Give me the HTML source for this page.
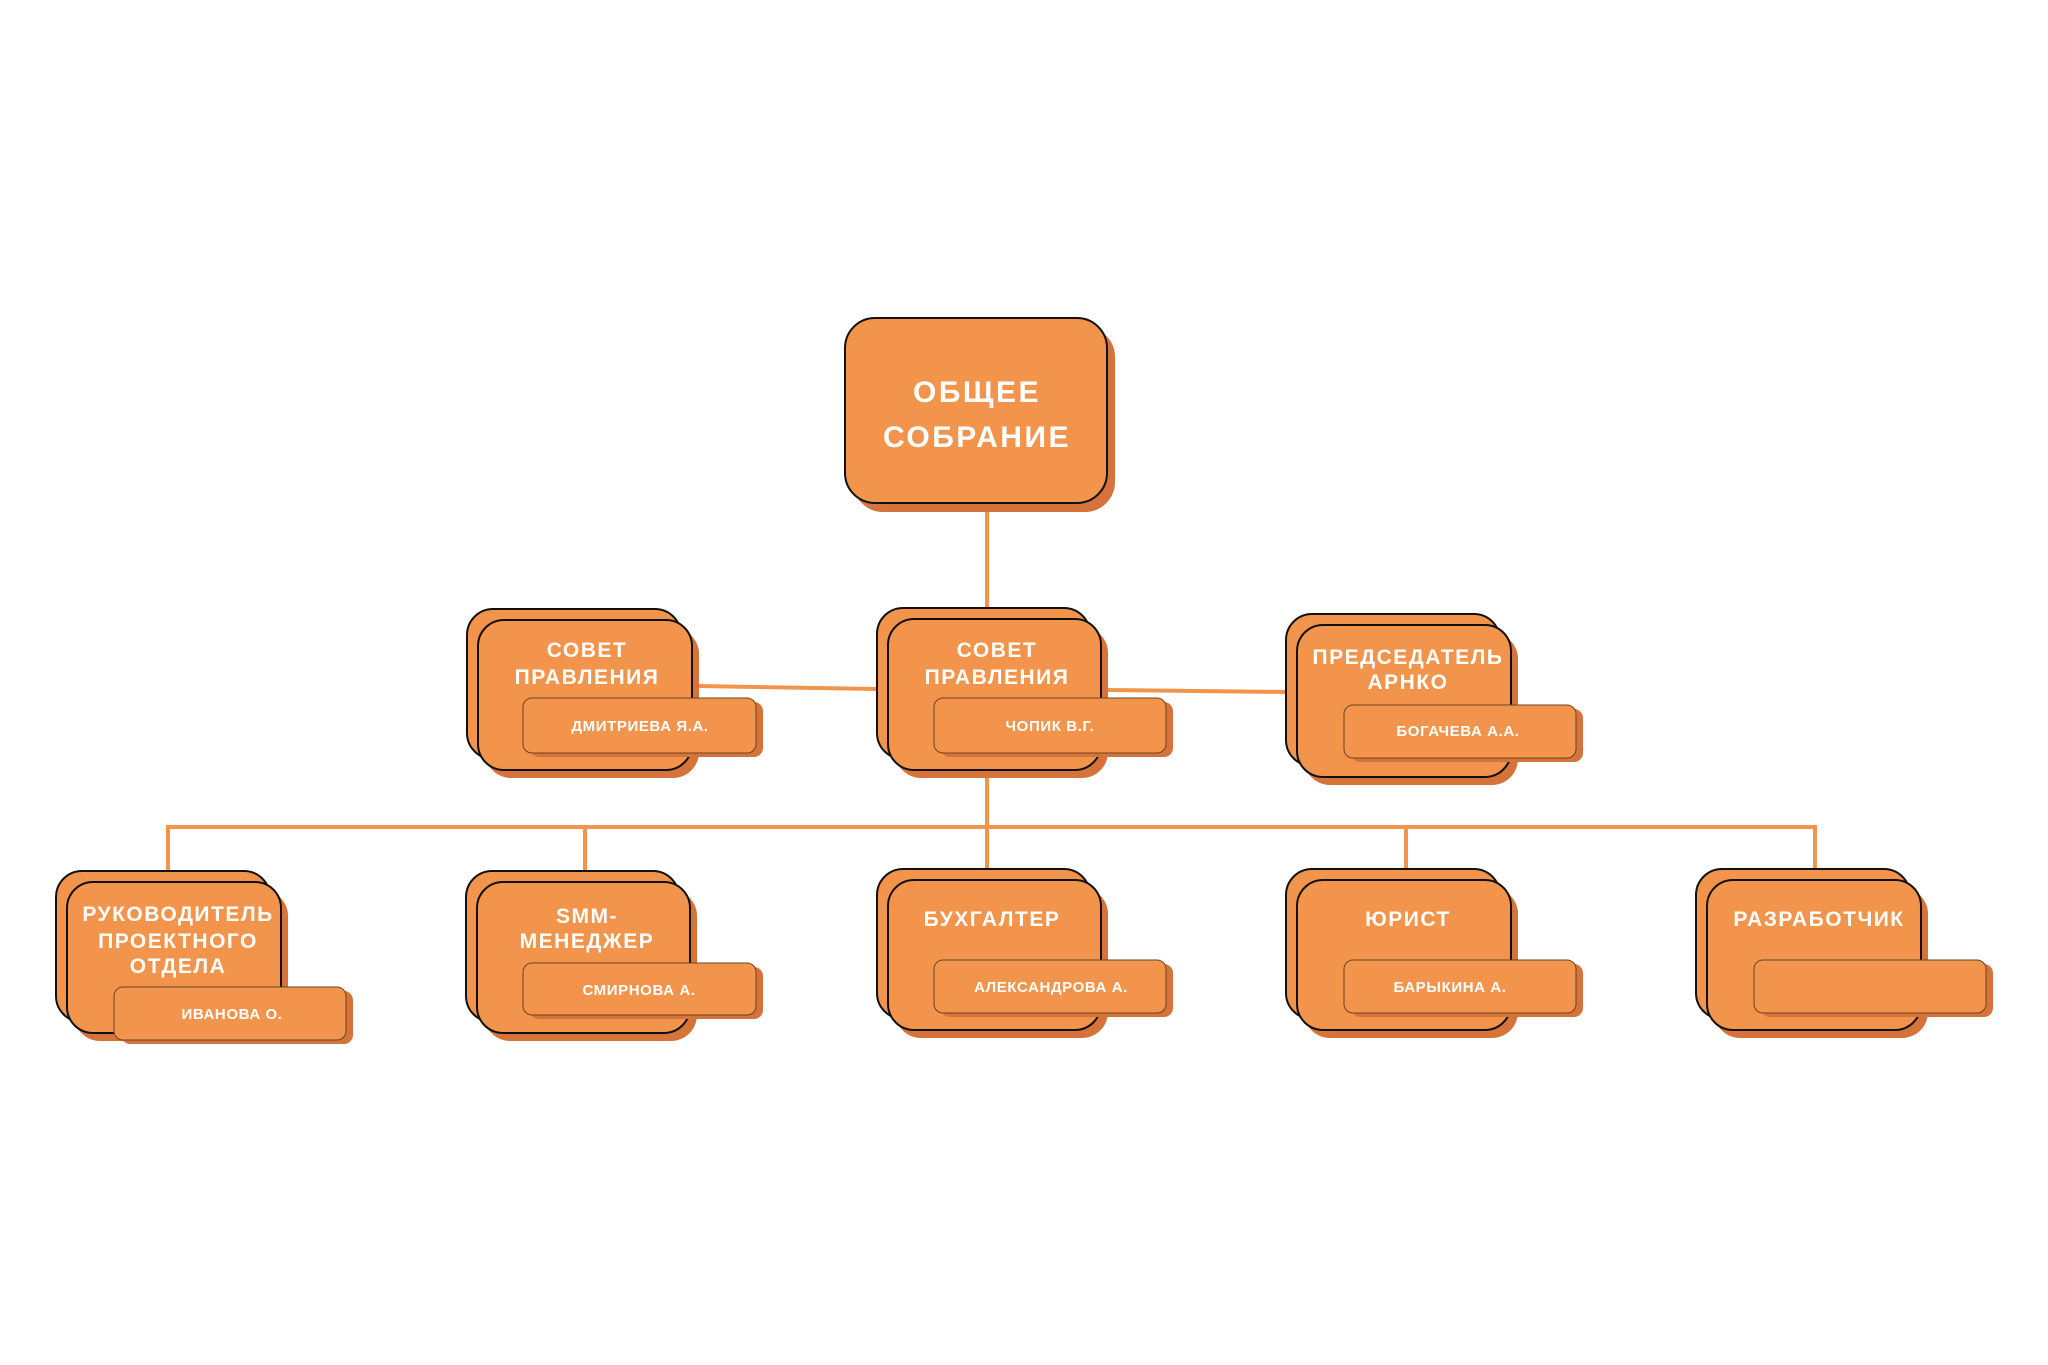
<!DOCTYPE html>
<html>
<head>
<meta charset="utf-8">
<style>
html,body{margin:0;padding:0;background:#fff;}
svg{display:block;}
.t{font-family:"Liberation Sans","DejaVu Sans",sans-serif;font-weight:bold;fill:#fff;text-anchor:middle;}
.big{font-size:30px;letter-spacing:2.5px;}
.mid{font-size:21px;letter-spacing:1.5px;}
.sm{font-size:15px;letter-spacing:0.6px;}
.f{fill:#F2944C;stroke:#111;stroke-width:2;}
.s{fill:#D6733A;}
.p{fill:#F2944C;stroke:#6b4423;stroke-width:1;}
.ln{stroke:#F2944C;stroke-width:4;fill:none;}
</style>
</head>
<body>
<svg width="2048" height="1365" viewBox="0 0 2048 1365" xmlns="http://www.w3.org/2000/svg">
<rect width="2048" height="1365" fill="#fff"/>

<!-- connectors -->
<line class="ln" x1="987" y1="503" x2="987" y2="612"/>
<line class="ln" x1="987" y1="770" x2="987" y2="874"/>
<line class="ln" x1="166" y1="827" x2="1817" y2="827"/>
<line class="ln" x1="168" y1="825" x2="168" y2="874"/>
<line class="ln" x1="585" y1="825" x2="585" y2="874"/>
<line class="ln" x1="1406" y1="825" x2="1406" y2="874"/>
<line class="ln" x1="1815" y1="825" x2="1815" y2="874"/>
<line class="ln" x1="698" y1="686" x2="878" y2="689"/>
<line class="ln" x1="1106" y1="690" x2="1288" y2="692"/>

<!-- top node -->
<rect class="s" x="853" y="327" width="262" height="185" rx="30"/>
<rect class="f" x="845" y="318" width="262" height="185" rx="30"/>
<text class="t big" x="977" y="402">ОБЩЕЕ</text>
<text class="t big" x="977" y="447">СОБРАНИЕ</text>

<!-- N2 Совет left -->
<rect class="s" x="485" y="628" width="214" height="150" rx="26"/>
<rect class="f" x="467" y="609" width="214" height="150" rx="26"/>
<rect class="f" x="478" y="620" width="214" height="150" rx="26"/>
<text class="t mid" x="587" y="657">СОВЕТ</text>
<text class="t mid" x="587" y="684">ПРАВЛЕНИЯ</text>
<rect class="s" x="530" y="702" width="233" height="55" rx="9"/>
<rect class="p" x="523" y="698" width="233" height="55" rx="9"/>
<text class="t sm" x="640" y="731">ДМИТРИЕВА Я.А.</text>

<!-- N3 Совет center -->
<rect class="s" x="895" y="627" width="213" height="151" rx="26"/>
<rect class="f" x="877" y="608" width="213" height="151" rx="26"/>
<rect class="f" x="888" y="619" width="213" height="151" rx="26"/>
<text class="t mid" x="997" y="657">СОВЕТ</text>
<text class="t mid" x="997" y="684">ПРАВЛЕНИЯ</text>
<rect class="s" x="941" y="702" width="232" height="55" rx="9"/>
<rect class="p" x="934" y="698" width="232" height="55" rx="9"/>
<text class="t sm" x="1050" y="731">ЧОПИК В.Г.</text>

<!-- N4 Председатель -->
<rect class="s" x="1304" y="633" width="214" height="152" rx="26"/>
<rect class="f" x="1286" y="614" width="214" height="152" rx="26"/>
<rect class="f" x="1297" y="625" width="214" height="152" rx="26"/>
<text class="t mid" x="1408" y="664">ПРЕДСЕДАТЕЛЬ</text>
<text class="t mid" x="1408" y="689">АРНКО</text>
<rect class="s" x="1351" y="709" width="232" height="53" rx="9"/>
<rect class="p" x="1344" y="705" width="232" height="53" rx="9"/>
<text class="t sm" x="1458" y="736">БОГАЧЕВА А.А.</text>

<!-- N5 Руководитель -->
<rect class="s" x="74" y="890" width="214" height="151" rx="26"/>
<rect class="f" x="56" y="871" width="214" height="151" rx="26"/>
<rect class="f" x="67" y="882" width="214" height="151" rx="26"/>
<text class="t mid" x="178" y="921">РУКОВОДИТЕЛЬ</text>
<text class="t mid" x="178" y="948">ПРОЕКТНОГО</text>
<text class="t mid" x="178" y="973">ОТДЕЛА</text>
<rect class="s" x="121" y="991" width="232" height="53" rx="9"/>
<rect class="p" x="114" y="987" width="232" height="53" rx="9"/>
<text class="t sm" x="232" y="1019">ИВАНОВА О.</text>

<!-- N6 SMM -->
<rect class="s" x="484" y="890" width="213" height="151" rx="26"/>
<rect class="f" x="466" y="871" width="213" height="151" rx="26"/>
<rect class="f" x="477" y="882" width="213" height="151" rx="26"/>
<text class="t mid" x="587" y="923">SMM-</text>
<text class="t mid" x="587" y="948">МЕНЕДЖЕР</text>
<rect class="s" x="530" y="967" width="233" height="52" rx="9"/>
<rect class="p" x="523" y="963" width="233" height="52" rx="9"/>
<text class="t sm" x="639" y="995">СМИРНОВА А.</text>

<!-- N7 Бухгалтер -->
<rect class="s" x="895" y="888" width="213" height="150" rx="26"/>
<rect class="f" x="877" y="869" width="213" height="150" rx="26"/>
<rect class="f" x="888" y="880" width="213" height="150" rx="26"/>
<text class="t mid" x="992" y="926">БУХГАЛТЕР</text>
<rect class="s" x="941" y="964" width="232" height="53" rx="9"/>
<rect class="p" x="934" y="960" width="232" height="53" rx="9"/>
<text class="t sm" x="1051" y="992">АЛЕКСАНДРОВА А.</text>

<!-- N8 Юрист -->
<rect class="s" x="1304" y="888" width="214" height="150" rx="26"/>
<rect class="f" x="1286" y="869" width="214" height="150" rx="26"/>
<rect class="f" x="1297" y="880" width="214" height="150" rx="26"/>
<text class="t mid" x="1408" y="926">ЮРИСТ</text>
<rect class="s" x="1351" y="964" width="232" height="53" rx="9"/>
<rect class="p" x="1344" y="960" width="232" height="53" rx="9"/>
<text class="t sm" x="1450" y="992">БАРЫКИНА А.</text>

<!-- N9 Разработчик -->
<rect class="s" x="1714" y="888" width="214" height="150" rx="26"/>
<rect class="f" x="1696" y="869" width="214" height="150" rx="26"/>
<rect class="f" x="1707" y="880" width="214" height="150" rx="26"/>
<text class="t mid" x="1819" y="926">РАЗРАБОТЧИК</text>
<rect class="s" x="1761" y="964" width="232" height="53" rx="9"/>
<rect class="p" x="1754" y="960" width="232" height="53" rx="9"/>
</svg>
</body>
</html>
